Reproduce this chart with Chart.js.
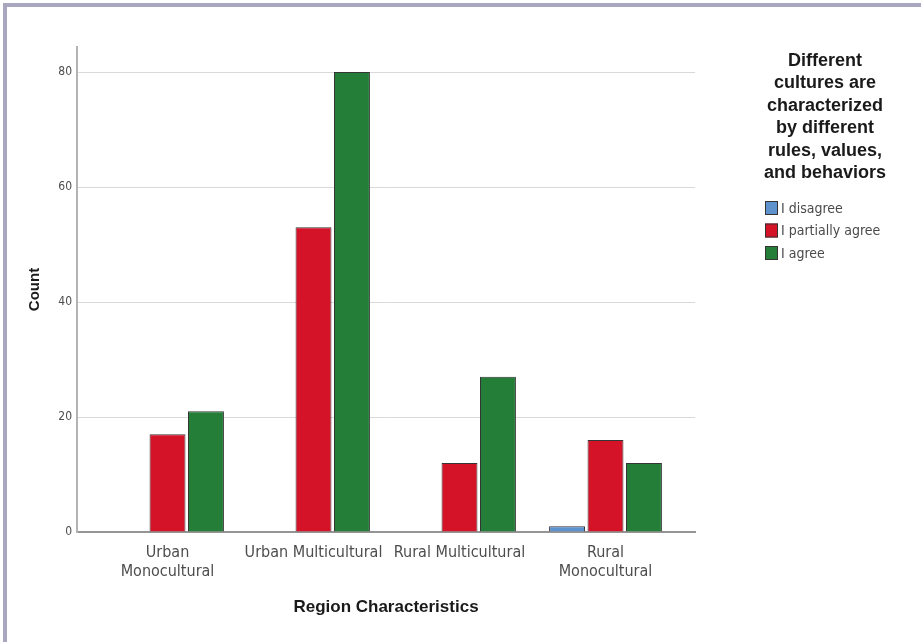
<!DOCTYPE html>
<html>
<head>
<meta charset="utf-8">
<title>Region Characteristics</title>
<script src="https://cdn.jsdelivr.net/npm/chart.js@4.4.0/dist/chart.umd.min.js"></script>
<style>
    html, body { margin: 0; padding: 0; background: #ffffff; }
    #wrap { position: absolute; left: 0; top: 0; width: 921px; height: 642px; }
    #frame {
        position: absolute; left: 3px; top: 3px; width: 918px; height: 639px;
        border-top: 4px solid #a8a7bf; border-left: 4px solid #a8a7bf;
        box-sizing: border-box; pointer-events: none;
    }
</style>
</head>
<body>
<div id="wrap"><canvas id="grafico" width="921" height="642"></canvas></div>
<div id="frame"></div>
<script>
// datos
const categorias = [['Urban', 'Monocultural'], 'Urban Multicultural', 'Rural Multicultural', ['Rural', 'Monocultural']];
const series = ['I disagree', 'I partially agree', 'I agree'];
const disagree = [0, 0, 0, 1];
const partiallyAgree = [17, 53, 12, 16];
const agree = [21, 80, 27, 12];
const ticksY = [0, 20, 40, 60, 80];
const tituloLeyenda = ['Different', 'cultures are', 'characterized', 'by different', 'rules, values,', 'and behaviors'];

const colores = ['#5e92cc', '#d41328', '#247e38'];
const narrow = "'Liberation Sans Narrow', 'Arial Narrow', 'DejaVu Sans Condensed', sans-serif";
const normal = "'Liberation Sans', Arial, sans-serif";

function puntos(valores) {
    return valores.map((v, i) => ({ x: i, y: v }));
}

// leyenda dibujada a mano (titulo de varias lineas)
const leyenda = {
    id: 'leyenda',
    afterDraw(chart) {
        const ctx = chart.ctx;
        ctx.save();
        ctx.fillStyle = '#1a1a1a';
        ctx.font = 'bold 18px ' + normal;
        ctx.textAlign = 'center';
        ctx.textBaseline = 'middle';
        tituloLeyenda.forEach((linea, i) => {
            ctx.fillText(linea, 825, 61 + i * 22.5);
        });
        ctx.textAlign = 'left';
        ctx.font = '14px ' + narrow;
        chart.data.datasets.forEach((ds, i) => {
            const y = 208 + i * 22.5;
            ctx.fillStyle = ds.backgroundColor;
            ctx.fillRect(765, y - 7, 13, 14);
            ctx.strokeStyle = '#333333';
            ctx.lineWidth = 1;
            ctx.strokeRect(765.5, y - 6.5, 12, 13);
            ctx.fillStyle = '#4a4a4a';
            ctx.fillText(ds.label, 781, y + 1);
        });
        ctx.restore();
    }
};

const ctx = document.getElementById('grafico').getContext('2d');

new Chart(ctx, {
    type: 'bar',
    data: {
        datasets: [
            { label: series[0], data: puntos(disagree), backgroundColor: colores[0] },
            { label: series[1], data: puntos(partiallyAgree), backgroundColor: colores[1] },
            { label: series[2], data: puntos(agree), backgroundColor: colores[2] }
        ]
    },
    options: {
        responsive: false,
        animation: false,
        devicePixelRatio: 1,
        layout: { padding: { left: 0, top: 47, right: 226, bottom: 0 } },
        datasets: {
            bar: {
                categoryPercentage: 0.79,
                barPercentage: 0.935,
                borderColor: '#353535',
                borderWidth: 1
            }
        },
        plugins: {
            legend: { display: false },
            tooltip: { enabled: false }
        },
        scales: {
            x: {
                type: 'linear',
                offset: false,
                min: -0.62,
                max: 3.613,
                afterFit: s => { s.height = 110; },
                afterBuildTicks: s => { s.ticks = categorias.map((c, i) => ({ value: i })); },
                grid: { display: false, offset: false },
                border: { display: true, color: '#959595', width: 2 },
                ticks: {
                    autoSkip: false,
                    maxRotation: 0,
                    padding: 3,
                    color: '#4d4d4d',
                    font: { family: narrow, size: 16, lineHeight: 1.2 },
                    callback: v => categorias[v]
                },
                title: {
                    display: true,
                    text: 'Region Characteristics',
                    color: '#1a1a1a',
                    font: { family: normal, size: 17, weight: 'bold' },
                    padding: { top: 0, bottom: 24 }
                }
            },
            y: {
                min: 0,
                max: 84.35,
                afterFit: s => { s.width = 77; },
                afterBuildTicks: s => { s.ticks = ticksY.map(v => ({ value: v })); },
                grid: {
                    drawTicks: false,
                    color: c => c.tick && c.tick.value === 0 ? 'rgba(0,0,0,0)' : '#d9d9d9',
                    lineWidth: 1
                },
                border: { display: true, color: '#b3b3b3', width: 2 },
                ticks: {
                    padding: 5,
                    color: '#4d4d4d',
                    font: { family: narrow, size: 12 }
                },
                title: {
                    display: true,
                    text: 'Count',
                    color: '#1a1a1a',
                    font: { family: normal, size: 15, weight: 'bold' },
                    padding: { top: 26, bottom: 0 }
                }
            }
        }
    },
    plugins: [leyenda]
});
</script>
</body>
</html>
